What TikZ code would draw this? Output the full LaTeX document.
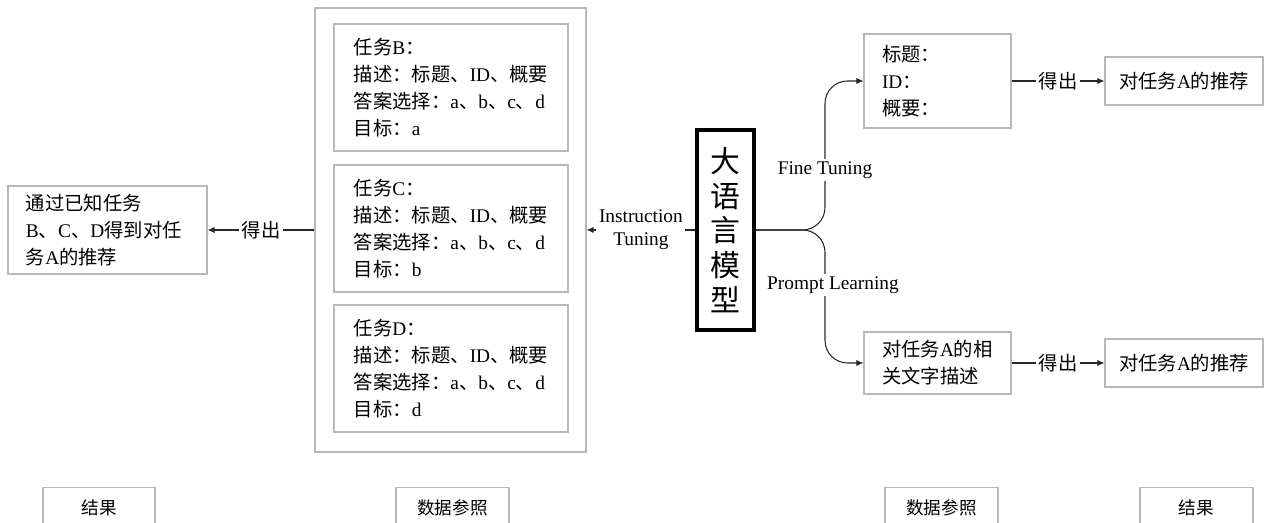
\documentclass[tikz,border=0pt]{standalone}
\usepackage{fontspec}
\setmainfont{Liberation Serif}
\newfontfamily\cjkfont{Noto Sans CJK SC}
\usetikzlibrary{arrows.meta}
\XeTeXinterchartokenstate=1
\newXeTeXintercharclass\cjkclass
\count255="3000
\loop\XeTeXcharclass\count255=\cjkclass
\ifnum\count255<"9FFF \advance\count255 by 1 \repeat
\count255="FF00
\loop\XeTeXcharclass\count255=\cjkclass
\ifnum\count255<"FFEF \advance\count255 by 1 \repeat
\XeTeXinterchartoks 0 \cjkclass={\cjkfont}
\XeTeXinterchartoks 4095 \cjkclass={\cjkfont}
\XeTeXinterchartoks \cjkclass 0={\rmfamily}
\XeTeXinterchartoks \cjkclass 4095={\rmfamily}

\begin{document}
\begin{tikzpicture}[font=\fontsize{11}{15.4}\selectfont,
    >={Latex[length=4pt,width=3.5pt]},
    box/.style={draw=black!28, line width=0.6pt, align=left, inner sep=0pt},
    line/.style={draw=black!85, line width=0.6pt},
    lbl/.style={fill=white, inner sep=1.5pt}]
    \useasboundingbox (0,0) rectangle (25.28,10.46);
    \node[box, minimum width=5.42cm, minimum height=8.88cm] (ref) at (9.01,5.86) {};
    \node[box, minimum width=4.68cm, minimum height=2.54cm] (tb) at (9.02,8.71) {任务B：\\描述：标题、ID、概要\\答案选择：a、b、c、d\\目标：a};
    \node[box, minimum width=4.68cm, minimum height=2.54cm] (tc) at (9.02,5.89) {任务C：\\描述：标题、ID、概要\\答案选择：a、b、c、d\\目标：b};
    \node[box, minimum width=4.68cm, minimum height=2.54cm] (td) at (9.02,3.09) {任务D：\\描述：标题、ID、概要\\答案选择：a、b、c、d\\目标：d};
    \node[box, minimum width=3.98cm, minimum height=1.76cm, text width=3.26cm] (res) at (2.15,5.86) {通过已知任务\\B、C、D得到对任\\务A的推荐};
    \node[draw, line width=2pt, minimum width=1.14cm, minimum height=4cm, align=center, font=\fontsize{17}{19.8}\selectfont] (llm) at (14.51,5.86) {大\\语\\言\\模\\型};
    \node[box, minimum width=2.94cm, minimum height=1.88cm, text width=2.22cm] (ft) at (18.75,8.84) {标题：\\ID：\\概要：};
    \node[box, minimum width=2.94cm, minimum height=1.24cm, text width=2.22cm] (pl) at (18.75,3.2) {对任务A的相\\关文字描述};
    \node[box, minimum width=3.16cm, minimum height=0.96cm] (rt) at (23.68,8.84) {对任务A的推荐};
    \node[box, minimum width=3.16cm, minimum height=0.96cm] (rb) at (23.68,3.2) {对任务A的推荐};
    \node[box, minimum width=2.24cm, minimum height=0.8cm, anchor=north, font=\fontsize{10}{12}\selectfont] (k1) at (1.98,0.72) {结果};
    \node[box, minimum width=2.26cm, minimum height=0.8cm, anchor=north, font=\fontsize{10}{12}\selectfont] (k2) at (9.05,0.72) {数据参照};
    \node[box, minimum width=2.26cm, minimum height=0.8cm, anchor=north, font=\fontsize{10}{12}\selectfont] (k3) at (18.83,0.72) {数据参照};
    \node[box, minimum width=2.26cm, minimum height=0.8cm, anchor=north, font=\fontsize{10}{12}\selectfont] (k4) at (23.93,0.72) {结果};
    \draw[line,->] (ref.west) -- node[lbl]{得出} (res.east);
    \draw[line,->] (llm.west) -- node[lbl, align=center, font=\fontsize{11}{13}\selectfont]{Instruction\\Tuning} (ref.east);
    \coordinate (fork) at (16.5,5.86);
    \draw[line,->,rounded corners=0.45cm] (llm.east) -- (fork) |- (ft.west);
    \draw[line,->,rounded corners=0.45cm] (llm.east) -- (fork) |- (pl.west);
    \node[lbl] (fine) at (16.5,7.06) {Fine Tuning};
    \node[lbl] (prompt) at (16.66,4.76) {Prompt Learning};
    \draw[line,->] (ft.east) -- node[lbl]{得出} (rt.west);
    \draw[line,->] (pl.east) -- node[lbl]{得出} (rb.west);
\end{tikzpicture}
\end{document}
